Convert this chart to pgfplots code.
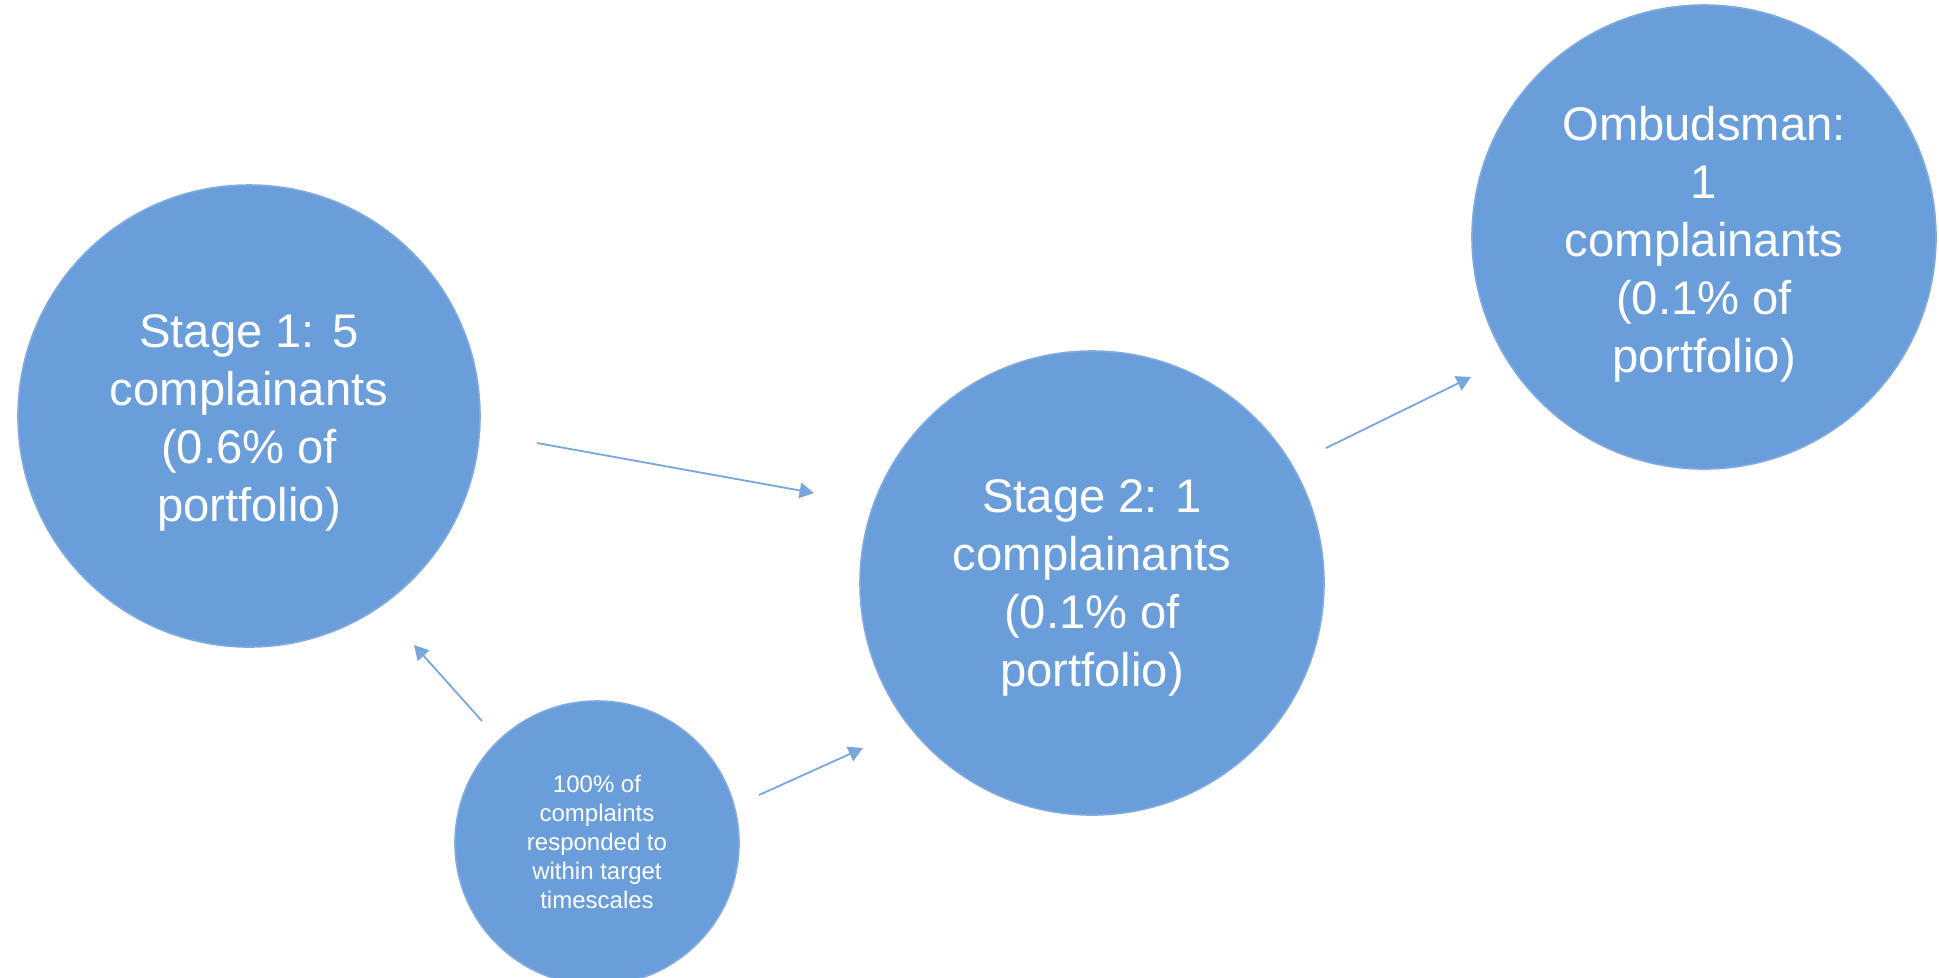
\documentclass[border=0pt]{standalone}
\usepackage{pgfplots}
\pgfplotsset{compat=1.18}
\usepackage{pgfplotstable}
\usetikzlibrary{arrows.meta}
\usepackage{fontspec}
\setmainfont{Liberation Sans}
\definecolor{fillblue}{RGB}{106,158,219}
\definecolor{edgeblue}{RGB}{126,170,224}
\definecolor{arrowblue}{RGB}{122,166,222}
\tikzset{lbl/.style={text=white, align=center, inner sep=0pt, font=\fontsize{11.8}{14.5}\selectfont},
  arr/.style={arrowblue, line width=0.45pt, -{Triangle[length=3.6pt,width=3.9pt,fill=arrowblue]}}}
\pgfplotstableread{
x y r
249 416 231
1092 583 232
1704 237 232
597 843 142
}\circles
\begin{document}
\begin{tikzpicture}
\useasboundingbox (0,0) rectangle (484.75pt,244.25pt);
\begin{axis}[
  at={(0,0)}, anchor=south west,
  x=0.25pt, y=0.25pt, y dir=reverse,
  xmin=0, xmax=1939, ymin=0, ymax=977,
  hide axis, clip=false,
]
\addplot[scatter, only marks, mark=*,
  visualization depends on={0.25*\thisrow{r} \as \rad},
  scatter/use mapped color={draw=edgeblue, fill=fillblue},
  scatter/@pre marker code/.append style={/tikz/mark size=\rad, /tikz/line width=0.4pt},
] table {\circles};
\addplot[arr] coordinates {(537,443) (814,493)};
\addplot[arr] coordinates {(1326,448) (1471,377)};
\addplot[arr] coordinates {(482,721) (414,645)};
\addplot[arr] coordinates {(759,795) (863,748)};
\coordinate (t1) at (axis cs:249,423);
\coordinate (t2) at (axis cs:1092,588);
\coordinate (t3) at (axis cs:1704,244);
\coordinate (t4) at (axis cs:597,842);
\end{axis}
\node[lbl] at (t1) {Stage 1: 5\\complainants\\(0.6\% of\\portfolio)};
\node[lbl] at (t2) {Stage 2: 1\\complainants\\(0.1\% of\\portfolio)};
\node[lbl] at (t3) {Ombudsman:\\1\\complainants\\(0.1\% of\\portfolio)};
\node[lbl, font=\fontsize{6.0}{7.2}\selectfont] at (t4) {100\% of\\complaints\\responded to\\within target\\timescales};
\end{tikzpicture}
\end{document}
